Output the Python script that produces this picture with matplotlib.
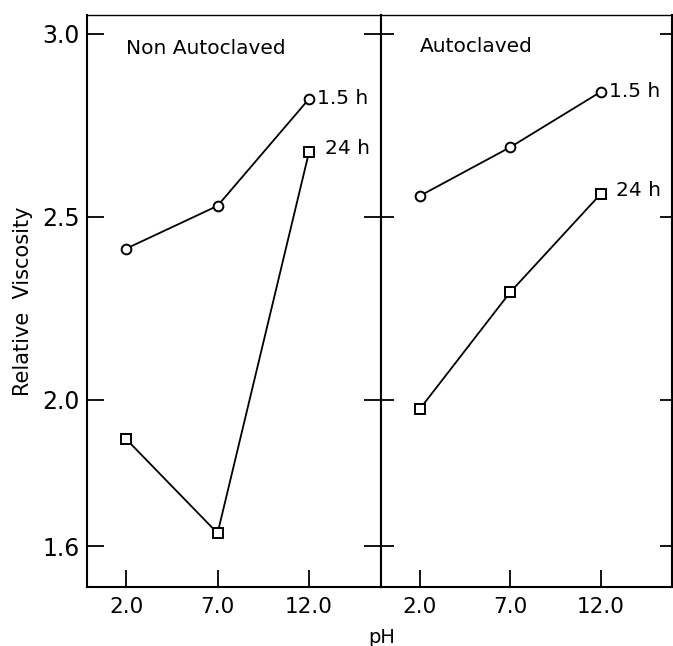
import matplotlib
matplotlib.use("Agg")
import matplotlib.pyplot as plt

# -------- DATA --------
ph = [2.0, 7.0, 12.0]
non_auto_15h = [2.413, 2.530, 2.822]
non_auto_24h = [1.893, 1.636, 2.677]
auto_15h = [2.557, 2.690, 2.841]
auto_24h = [1.975, 2.294, 2.562]

yticks = [1.6, 2.0, 2.5, 3.0]
ytick_labels = ["1.6", "2.0", "2.5", "3.0"]
xticks = [2.0, 7.0, 12.0]
xtick_labels = ["2.0", "7.0", "12.0"]
# -------- DATA. --------

plt.rcParams['font.family'] = ['DejaVu Sans']

fig = plt.figure(figsize=(6.73, 6.46), dpi=100)
ax1 = fig.add_axes([0.129, 0.0913, 0.437, 0.886])
ax2 = fig.add_axes([0.566, 0.0913, 0.432, 0.886])

xlim = (-0.15, 15.93)
ylim = (1.489, 3.052)

for ax in (ax1, ax2):
    ax.set_xlim(xlim)
    ax.set_ylim(ylim)
    for sp in ax.spines.values():
        sp.set_linewidth(1.5)
    ax.spines['top'].set_linewidth(1.0)
    ax.set_xticks(xticks)
    ax.set_xticklabels(xtick_labels, fontsize=15.5)
    ax.set_yticks(yticks)
    ax.tick_params(axis='x', direction='in', length=12, width=1.3, pad=7, top=False)
    ax.tick_params(axis='y', direction='in', length=12, width=1.3)

# left panel
ax1.set_yticklabels(ytick_labels, fontsize=17)
ax1.tick_params(axis='y', left=True, right=True, length=12, pad=5)
ax1.plot(ph, non_auto_15h, color='black', lw=1.3, marker='o', ms=7,
         mfc='white', mec='black', mew=1.4)
ax1.plot(ph, non_auto_24h, color='black', lw=1.3, marker='s', ms=7,
         mfc='white', mec='black', mew=1.4)
ax1.text(2.0, 2.96, 'Non Autoclaved', fontsize=14.5, va='center')
ax1.text(ph[-1] + 0.45, non_auto_15h[-1], '1.5 h', fontsize=14.5, va='center')
ax1.text(ph[-1] + 0.85, non_auto_24h[-1] + 0.01, '24 h', fontsize=14.5, va='center')

# right panel
ax2.tick_params(axis='y', left=True, right=True, labelleft=False, length=9)
ax2.plot(ph, auto_15h, color='black', lw=1.3, marker='o', ms=7,
         mfc='white', mec='black', mew=1.4)
ax2.plot(ph, auto_24h, color='black', lw=1.3, marker='s', ms=7,
         mfc='white', mec='black', mew=1.4)
ax2.text(2.0, 2.965, 'Autoclaved', fontsize=14.5, va='center')
ax2.text(ph[-1] + 0.45, auto_15h[-1], '1.5 h', fontsize=14.5, va='center')
ax2.text(ph[-1] + 0.85, auto_24h[-1] + 0.01, '24 h', fontsize=14.5, va='center')

fig.text(0.034, 0.534, 'Relative  Viscosity', fontsize=15, rotation=90,
         ha='center', va='center')
fig.text(0.567, 0.0124, 'pH', fontsize=14, ha='center', va='center')

plt.savefig('out.png', dpi=100)
